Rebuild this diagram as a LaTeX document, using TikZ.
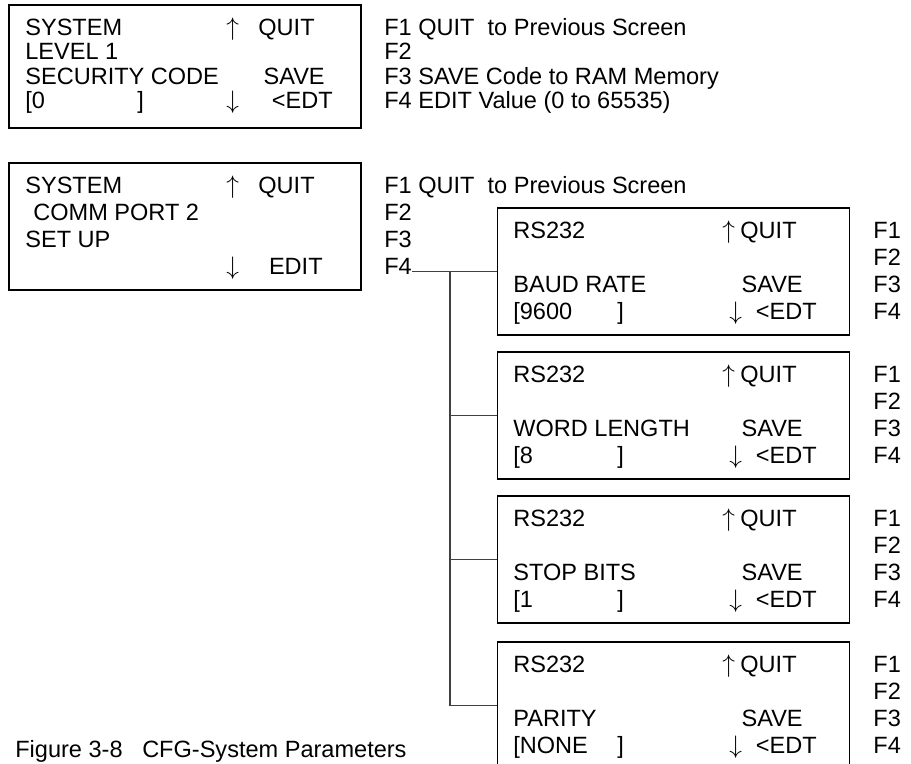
\documentclass[tikz,border=0pt]{standalone}
\usepackage{fontspec}
\setmainfont{Liberation Sans}
\tikzset{
  screen/.style={shape=rectangle, draw, line width=0.7pt, minimum width=7.04cm, minimum height=2.54cm, inner sep=0pt},
  lcd/.style={anchor=base west, inner sep=0pt, font=\fontsize{13.4}{16}\selectfont},
  lcdr/.style={anchor=base east, inner sep=0pt, font=\fontsize{13.4}{16}\selectfont},
  wire/.style={draw=black!75, line width=0.8pt}
}
\begin{document}
\begin{tikzpicture}[x=0.02cm, y=-0.02cm]
	% Screens, key labels and wires:
	\useasboundingbox (0,0) rectangle (911,763);
	\node[screen, minimum height=2.46cm] (lvlBox) at (185, 66.5){};
	\node[lcd] (lvlSys) at (25, 35.5){SYSTEM};
	\node[lcd] (lvlUp) at (226, 35.5){$\uparrow$};
	\node[lcdr] (lvlQuit) at (315, 35.5){QUIT};
	\node[lcd] (lvlLevel) at (25, 60){LEVEL 1};
	\node[lcd] (lvlCode) at (25, 84.5){SECURITY CODE};
	\node[lcdr] (lvlSave) at (325, 84.5){SAVE};
	\node[lcd] (lvlVal) at (25, 109){[0};
	\node[lcd] (lvlBr) at (137, 109){]};
	\node[lcd] (lvlDown) at (226, 109){$\downarrow$};
	\node[lcdr] (lvlEdt) at (333, 109){<EDT};
	\node[lcd] (lvlF1) at (384, 35.5){F1 QUIT\ \ to Previous Screen};
	\node[lcd] (lvlF2) at (384, 60){F2};
	\node[lcd] (lvlF3) at (384, 84.5){F3 SAVE Code to RAM Memory};
	\node[lcd] (lvlF4) at (384, 109){F4 EDIT Value (0 to 65535)};
	\node[screen] (commBox) at (185, 226.5){};
	\node[lcd] (commSys) at (25, 193.5){SYSTEM};
	\node[lcd] (commUp) at (226, 193.5){$\uparrow$};
	\node[lcdr] (commQuit) at (315, 193.5){QUIT};
	\node[lcd] (commPort) at (33, 220.5){COMM PORT 2};
	\node[lcd] (commSet) at (25, 247.5){SET UP};
	\node[lcd] (commDown) at (226, 274.5){$\downarrow$};
	\node[lcdr] (commEdit) at (323, 274.5){EDIT};
	\node[lcd] (commF1) at (384, 193.5){F1 QUIT\ \ to Previous Screen};
	\node[lcd] (commF2) at (384, 220.5){F2};
	\node[lcd] (commF3) at (384, 247.5){F3};
	\node[lcd] (commF4) at (384, 274.5){F4};
	\node[screen] (baudBox) at (673.5, 271.5){};
	\node[lcd] (baudRs) at (513, 238.5){RS232};
	\node[lcd] (baudUp) at (722, 238.5){$\uparrow$};
	\node[lcdr] (baudQuit) at (797, 238.5){QUIT};
	\node[lcd] (baudName) at (513, 292.5){BAUD RATE};
	\node[lcdr] (baudSave) at (803, 292.5){SAVE};
	\node[lcd] (baudVal) at (513, 319.5){[9600};
	\node[lcd] (baudBr) at (617, 319.5){]};
	\node[lcd] (baudDown) at (729, 319.5){$\downarrow$};
	\node[lcdr] (baudEdt) at (817, 319.5){<EDT};
	\node[lcd] (baudF1) at (873, 238.5){F1};
	\node[lcd] (baudF2) at (873, 265.5){F2};
	\node[lcd] (baudF3) at (873, 292.5){F3};
	\node[lcd] (baudF4) at (873, 319.5){F4};
	\node[screen] (wordBox) at (673.5, 415.5){};
	\node[lcd] (wordRs) at (513, 382.5){RS232};
	\node[lcd] (wordUp) at (722, 382.5){$\uparrow$};
	\node[lcdr] (wordQuit) at (797, 382.5){QUIT};
	\node[lcd] (wordName) at (513, 436.5){WORD LENGTH};
	\node[lcdr] (wordSave) at (803, 436.5){SAVE};
	\node[lcd] (wordVal) at (513, 463.5){[8};
	\node[lcd] (wordBr) at (617, 463.5){]};
	\node[lcd] (wordDown) at (729, 463.5){$\downarrow$};
	\node[lcdr] (wordEdt) at (817, 463.5){<EDT};
	\node[lcd] (wordF1) at (873, 382.5){F1};
	\node[lcd] (wordF2) at (873, 409.5){F2};
	\node[lcd] (wordF3) at (873, 436.5){F3};
	\node[lcd] (wordF4) at (873, 463.5){F4};
	\node[screen] (stopBox) at (673.5, 559.5){};
	\node[lcd] (stopRs) at (513, 526.5){RS232};
	\node[lcd] (stopUp) at (722, 526.5){$\uparrow$};
	\node[lcdr] (stopQuit) at (797, 526.5){QUIT};
	\node[lcd] (stopName) at (513, 580.5){STOP BITS};
	\node[lcdr] (stopSave) at (803, 580.5){SAVE};
	\node[lcd] (stopVal) at (513, 607.5){[1};
	\node[lcd] (stopBr) at (617, 607.5){]};
	\node[lcd] (stopDown) at (729, 607.5){$\downarrow$};
	\node[lcdr] (stopEdt) at (817, 607.5){<EDT};
	\node[lcd] (stopF1) at (873, 526.5){F1};
	\node[lcd] (stopF2) at (873, 553.5){F2};
	\node[lcd] (stopF3) at (873, 580.5){F3};
	\node[lcd] (stopF4) at (873, 607.5){F4};
	\node[screen] (parityBox) at (673.5, 705.5){};
	\node[lcd] (parityRs) at (513, 672.5){RS232};
	\node[lcd] (parityUp) at (722, 672.5){$\uparrow$};
	\node[lcdr] (parityQuit) at (797, 672.5){QUIT};
	\node[lcd] (parityName) at (513, 726.5){PARITY};
	\node[lcdr] (paritySave) at (803, 726.5){SAVE};
	\node[lcd] (parityVal) at (513, 753.5){[NONE};
	\node[lcd] (parityBr) at (617, 753.5){]};
	\node[lcd] (parityDown) at (729, 753.5){$\downarrow$};
	\node[lcdr] (parityEdt) at (817, 753.5){<EDT};
	\node[lcd] (parityF1) at (873, 672.5){F1};
	\node[lcd] (parityF2) at (873, 699.5){F2};
	\node[lcd] (parityF3) at (873, 726.5){F3};
	\node[lcd] (parityF4) at (873, 753.5){F4};
	\coordinate (bus) at (450, 271.5);
	\draw[wire] (commF4.east |- baudBox.west) -- (baudBox.west);
	\draw[wire] (bus) |- (parityBox.west);
	\draw[wire] (bus |- wordBox.west) -- (wordBox.west);
	\draw[wire] (bus |- stopBox.west) -- (stopBox.west);
	\node[lcd] (caption) at (15, 757.5){Figure 3-8\ \ \ CFG-System Parameters};
\end{tikzpicture}
\end{document}
